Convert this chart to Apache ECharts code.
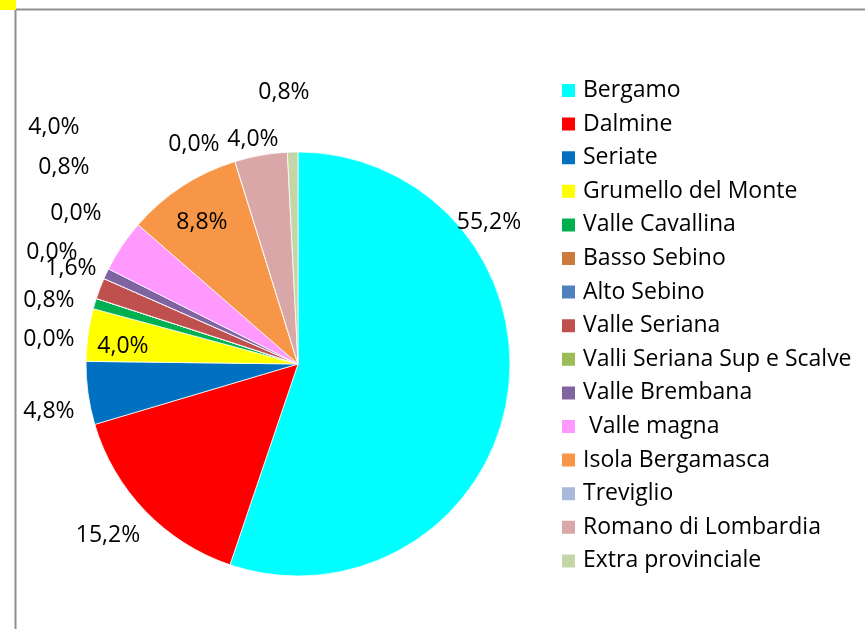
<!DOCTYPE html>
<html>
<head>
<meta charset="utf-8">
<script src="https://cdn.jsdelivr.net/npm/echarts@6/dist/echarts.min.js"></script>
<style>
  html, body { margin: 0; padding: 0; background: #fff; }
  #chart { width: 865px; height: 629px; }
</style>
</head>
<body>
<div id="chart"></div>
<script>
// ambiti di provenienza
var zones = [
  'Bergamo',
  'Dalmine',
  'Seriate',
  'Grumello del Monte',
  'Valle Cavallina',
  'Basso Sebino',
  'Alto Sebino',
  'Valle Seriana',
  'Valli Seriana Sup e Scalve',
  'Valle Brembana',
  ' Valle magna',
  'Isola Bergamasca',
  'Treviglio',
  'Romano di Lombardia',
  'Extra provinciale'
]
// percentuali
var shares = [55.2, 15.2, 4.8, 4.0, 0.8, 0.0, 0.0, 1.6, 0.0, 0.8, 4.0, 8.8, 0.0, 4.0, 0.8]

var colors = [
  '#00FFFF', '#FF0000', '#0070C0', '#FFFF00', '#00B050',
  '#CC7B3C', '#4F81BD', '#C0504D', '#9BBB59', '#8064A2',
  '#FF99FF', '#F79646', '#A8B9D9', '#D9A7A7', '#C4D6A8'
]

// dove Excel ha messo le etichette (centro del testo, px)
var labelSpots = [
  [489, 222], [108, 535], [49, 411], [123, 346], [49, 300],
  [49, 339], [52, 252], [71, 268], [76, 213], [64, 167],
  [54, 127], [202, 222], [194, 144], [253, 139], [284, 92]
]

var myChart = echarts.init(document.getElementById('chart'))

var pieData = []
for (var i = 0; i < zones.length; i++) {
  pieData.push({ name: zones[i], value: shares[i] })
}

var font = '"Open Sans", "Noto Sans", sans-serif'

myChart.setOption({
  backgroundColor: '#fff',
  animation: false,
  color: colors,
  graphic: [
    { type: 'line', shape: { x1: 15, y1: 9.5, x2: 865, y2: 9.5 }, style: { stroke: '#8f8f8f', lineWidth: 2 } },
    { type: 'line', shape: { x1: 15.5, y1: 9, x2: 15.5, y2: 629 }, style: { stroke: '#8f8f8f', lineWidth: 2 } },
    { type: 'rect', shape: { x: 0, y: 0, width: 16, height: 10 }, style: { fill: '#FFFF00' }, z: 10 }
  ],
  legend: {
    orient: 'vertical',
    left: 560,
    top: 79,
    padding: 0,
    icon: 'rect',
    itemWidth: 15,
    itemHeight: 15,
    itemGap: 10.6,
    textStyle: {
      fontFamily: font,
      fontSize: 23,
      lineHeight: 23,
      color: '#000',
      padding: [0, 0, 0, 2]
    },
    data: zones
  },
  series: [
    {
      type: 'pie',
      center: [298, 364],
      radius: 212,
      startAngle: 90,
      clockwise: true,
      avoidLabelOverlap: false,
      itemStyle: {
        borderColor: '#fff',
        borderWidth: 0.75
      },
      label: {
        show: true,
        position: 'outside',
        fontFamily: font,
        fontSize: 23,
        color: '#000',
        formatter: function (p) {
          return p.value.toFixed(1).replace('.', ',') + '%'
        }
      },
      labelLine: { show: false },
      labelLayout: function (params) {
        var s = labelSpots[params.dataIndex]
        return { x: s[0], y: s[1], align: 'center', verticalAlign: 'middle' }
      },
      emphasis: { disabled: true },
      data: pieData
    }
  ]
})
</script>
</body>
</html>
